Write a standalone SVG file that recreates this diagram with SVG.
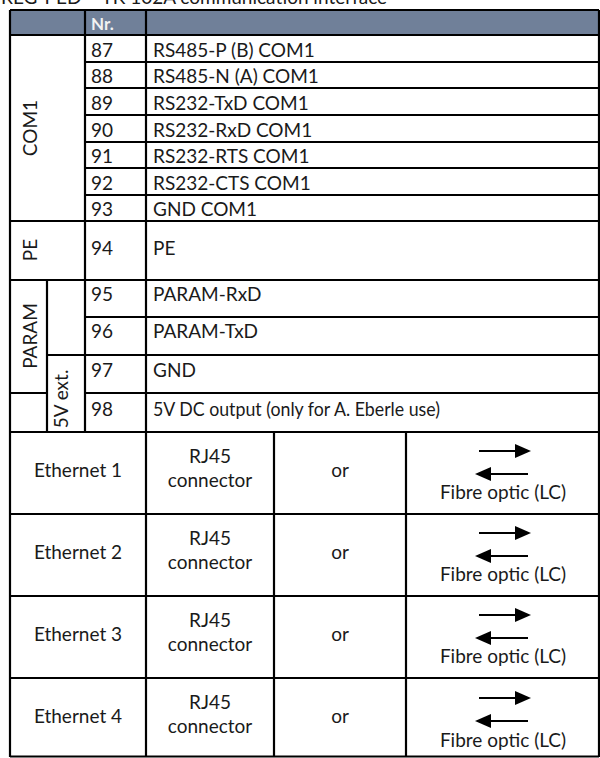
<svg xmlns="http://www.w3.org/2000/svg" width="600" height="758" viewBox="0 0 600 758">
<style>
text{font-family:Lato,"Liberation Sans",sans-serif;font-size:19px;fill:#1a1a1a}
.c{text-anchor:middle}
.h{font-weight:bold;fill:#f2f2f2;font-size:17px}
.g line{stroke:#000;stroke-width:2.2}
.ar{stroke:#000;stroke-width:2}
</style>
<defs>
<g id="fo">
<line class="ar" x1="-24" y1="0" x2="14" y2="0"/>
<polygon points="28,0 12,-7 12,7" fill="#000"/>
<line class="ar" x1="-12" y1="23" x2="25" y2="23"/>
<polygon points="-28,23 -12,16 -12,30" fill="#000"/>
</g>
</defs>
<rect width="600" height="758" fill="#fff"/>
<text x="1" y="4" font-size="20">REG-PED – TK 102A communication interface</text>
<rect x="10" y="10" width="589" height="25" fill="#708099"/>
<g class="g" id="grid">
<line x1="10" y1="10" x2="599" y2="10"/>
<line x1="10" y1="35" x2="599" y2="35"/>
<line x1="85" y1="62" x2="599" y2="62"/>
<line x1="85" y1="88" x2="599" y2="88"/>
<line x1="85" y1="115" x2="599" y2="115"/>
<line x1="85" y1="142" x2="599" y2="142"/>
<line x1="85" y1="168" x2="599" y2="168"/>
<line x1="85" y1="195" x2="599" y2="195"/>
<line x1="10" y1="221" x2="599" y2="221"/>
<line x1="10" y1="280" x2="599" y2="280"/>
<line x1="85" y1="317" x2="599" y2="317"/>
<line x1="47" y1="355" x2="599" y2="355"/>
<line x1="10" y1="393" x2="47" y2="393"/>
<line x1="85" y1="393" x2="599" y2="393"/>
<line x1="10" y1="432" x2="599" y2="432"/>
<line x1="10" y1="514" x2="599" y2="514"/>
<line x1="10" y1="596" x2="599" y2="596"/>
<line x1="10" y1="678" x2="599" y2="678"/>
<line x1="10" y1="756.5" x2="599" y2="756.5"/>
<line x1="10" y1="10" x2="10" y2="757"/>
<line x1="599" y1="10" x2="599" y2="757"/>
<line x1="85" y1="10" x2="85" y2="432"/>
<line x1="146" y1="10" x2="146" y2="757"/>
<line x1="47" y1="280" x2="47" y2="432"/>
<line x1="274" y1="432" x2="274" y2="757"/>
<line x1="406" y1="432" x2="406" y2="757"/>
</g>
<g id="header"><text class="h" x="91" y="30">Nr.</text></g>
<g id="com1">
<text class="c" transform="translate(37,128) rotate(-90)">COM1</text>
<text x="91" y="56.5">87</text><text x="153" y="56.5">RS485-P (B) COM1</text>
<text x="91" y="83">88</text><text x="153" y="83">RS485-N (A) COM1</text>
<text x="91" y="109.5">89</text><text x="153" y="109.5">RS232-TxD COM1</text>
<text x="91" y="136.5">90</text><text x="153" y="136.5">RS232-RxD COM1</text>
<text x="91" y="163">91</text><text x="153" y="163">RS232-RTS COM1</text>
<text x="91" y="189.5">92</text><text x="153" y="189.5">RS232-CTS COM1</text>
<text x="91" y="216">93</text><text x="153" y="216">GND COM1</text>
</g>
<g id="pe">
<text class="c" transform="translate(37,250) rotate(-90)">PE</text>
<text x="91" y="255">94</text><text x="153" y="255">PE</text>
</g>
<g id="param">
<text class="c" transform="translate(37,336) rotate(-90)">PARAM</text>
<text x="91" y="301">95</text><text x="153" y="301">PARAM-RxD</text>
<text x="91" y="338">96</text><text x="153" y="338">PARAM-TxD</text>
</g>
<g id="v5ext">
<text class="c" transform="translate(68,399) rotate(-90)">5V ext.</text>
<text x="91" y="377">97</text><text x="153" y="377">GND</text>
<text x="91" y="416" >98</text><text x="153" y="416" textLength="287" lengthAdjust="spacingAndGlyphs">5V DC output (only for A. Eberle use)</text>
</g>
<g id="eth1">
<text class="c" x="78" y="477">Ethernet 1</text>
<text class="c" x="210" y="463">RJ45</text><text class="c" x="210" y="487">connector</text>
<text class="c" x="340" y="477">or</text>
<use href="#fo" x="503" y="451"/>
<text class="c" x="503" y="499">Fibre optic (LC)</text>
</g>
<g id="eth2">
<text class="c" x="78" y="559">Ethernet 2</text>
<text class="c" x="210" y="545">RJ45</text><text class="c" x="210" y="569">connector</text>
<text class="c" x="340" y="559">or</text>
<use href="#fo" x="503" y="533"/>
<text class="c" x="503" y="581">Fibre optic (LC)</text>
</g>
<g id="eth3">
<text class="c" x="78" y="641">Ethernet 3</text>
<text class="c" x="210" y="627">RJ45</text><text class="c" x="210" y="651">connector</text>
<text class="c" x="340" y="641">or</text>
<use href="#fo" x="503" y="615"/>
<text class="c" x="503" y="663">Fibre optic (LC)</text>
</g>
<g id="eth4">
<text class="c" x="78" y="723">Ethernet 4</text>
<text class="c" x="210" y="709">RJ45</text><text class="c" x="210" y="733">connector</text>
<text class="c" x="340" y="723">or</text>
<use href="#fo" x="503" y="698"/>
<text class="c" x="503" y="747">Fibre optic (LC)</text>
</g>
</svg>
